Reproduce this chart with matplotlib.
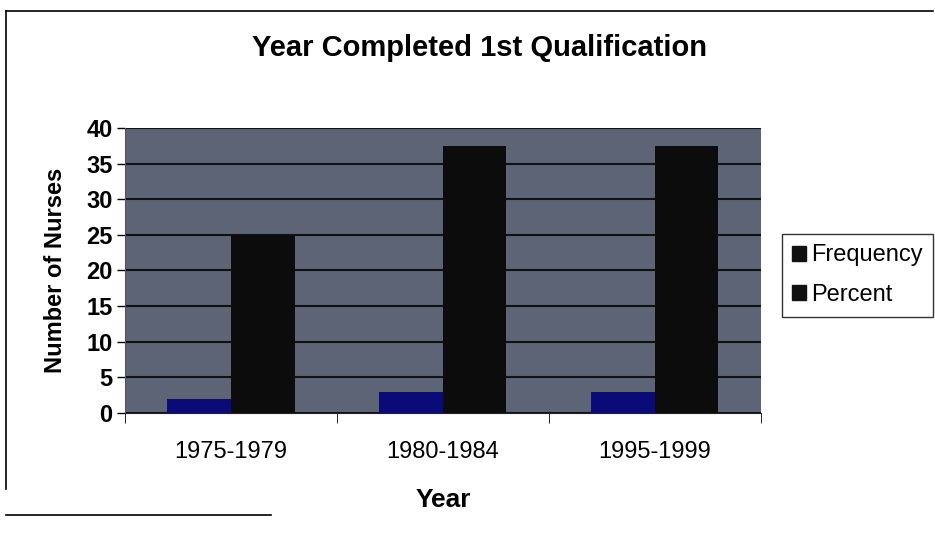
import matplotlib.pyplot as plt
import numpy as np

plt.rcParams['font.family'] = ['Liberation Sans', 'DejaVu Sans']

categories = ["1975-1979", "1980-1984", "1995-1999"]
frequency = [2, 3, 3]
percent = [25, 37.5, 37.5]

fig = plt.figure(figsize=(9.35, 5.43), dpi=100)
ax = fig.add_axes([0.1337, 0.2394, 0.680, 0.5249])

x = np.arange(len(categories))
w = 0.3
ax.bar(x - w / 2, frequency, w, color="#0a0a78", label="Frequency", zorder=3)
ax.bar(x + w / 2, percent, w, color="#0c0c0c", label="Percent", zorder=3)

ax.set_facecolor("#5d6475")
ax.set_xlim(-0.5, len(categories) - 0.5)
ax.set_ylim(0, 40)
ax.set_yticks(range(0, 41, 5))
ax.yaxis.grid(True, color="#111111", linewidth=1.5, zorder=1)
ax.set_xticks(x)
ax.set_xticklabels(categories, fontsize=17)
ax.tick_params(axis="x", length=0, pad=20)
ax.set_xticks(np.arange(-0.5, len(categories), 1), minor=True)
ax.tick_params(axis="x", which="minor", length=7, direction="out")
ax.tick_params(axis="y", labelsize=17, length=6, width=1, pad=3)
for lbl in ax.get_yticklabels():
    lbl.set_fontweight("bold")
for s in ["top", "right"]:
    ax.spines[s].set_visible(False)
ax.spines["left"].set_color("#555555")
ax.spines["bottom"].set_color("#222222")

ax.set_ylabel("Number of Nurses", fontsize=17, fontweight="bold", labelpad=14)
ax.set_xlabel("Year", fontsize=19, fontweight="bold", labelpad=18)
fig.text(0.513, 0.912, "Year Completed 1st Qualification", ha="center", va="center",
         fontsize=21, fontweight="bold")

leg = fig.legend(loc="center left", bbox_to_anchor=(0.836, 0.493), fontsize=17,
                 frameon=True, fancybox=False, edgecolor="black", handlelength=0.6,
                 handleheight=0.6, handletextpad=0.2, borderpad=0.45, labelspacing=0.75,
                 borderaxespad=0)
for h in leg.legend_handles:
    h.set_color("#111111")

# scanned page border
fig.add_artist(plt.Line2D([0.006, 0.006], [0.1, 0.98], color="black", lw=1.2))
fig.add_artist(plt.Line2D([0.006, 0.998], [0.98, 0.98], color="black", lw=1.2))
fig.add_artist(plt.Line2D([0.006, 0.29], [0.052, 0.052], color="black", lw=1.2))

fig.savefig("out.png", dpi=100)
